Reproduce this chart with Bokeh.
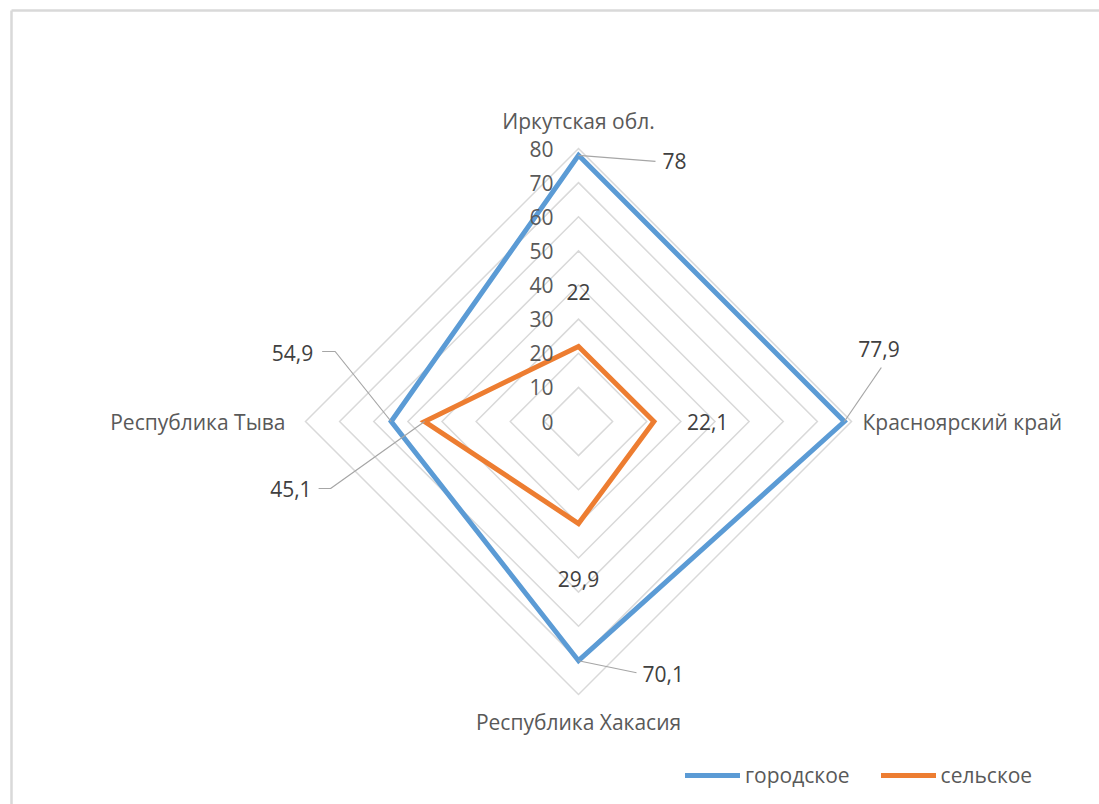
import math
from bokeh.plotting import figure
from bokeh.models import Range1d, Legend, LegendItem
from bokeh.core.properties import value
from bokeh.embed import file_html
from bokeh.resources import INLINE

# ---- data ----
categories = ["Иркутская обл.", "Красноярский край", "Республика Хакасия", "Республика Тыва"]
urban = [78, 77.9, 70.1, 54.9]
rural = [22, 22.1, 29.9, 45.1]
series_names = ["городское", "сельское"]
ticks = [0, 10, 20, 30, 40, 50, 60, 70, 80]

# ---- layout ----
W, H = 1099, 804
R_MAX = 80
S = 273 / R_MAX          # pixels per unit
CX, CY = 578, 421        # centre of the radar, in pixels from top-left

FONT_NAME = "Open Sans"
FONT = value(FONT_NAME)
FS = "21px"
GRID = "#d9d9d9"
BLUE = "#5b9bd5"
ORANGE = "#ed7d31"
CAT_COLOR = "#595959"
LBL_COLOR = "#404040"


def to_x(px):
    return (px - CX) / S


def to_y(py):
    return (CY - py) / S


# clockwise from the top
angles = [math.pi / 2 - i * math.pi / 2 for i in range(len(categories))]
ux = [round(math.cos(a), 12) for a in angles]
uy = [round(math.sin(a), 12) for a in angles]

p = figure(width=W, height=H,
           x_range=Range1d(to_x(0), to_x(W)), y_range=Range1d(to_y(H), to_y(0)),
           x_axis_location=None, y_axis_location=None,
           output_backend="svg", toolbar_location=None,
           min_border=0, outline_line_color=None)
for g in p.grid:
    g.visible = False

# chart-area frame
fx, fy = to_x(11), to_y(10)
p.segment(x0=[fx, fx], y0=[fy, fy], x1=[fx, to_x(W)], y1=[to_y(H), fy],
          line_color=GRID, line_width=2.5)

# concentric grid rings
for t in ticks[1:]:
    p.patch([t * c for c in ux], [t * s for s in uy],
            fill_color=None, line_color=GRID, line_width=1.5, line_join="miter")

# series polygons
def poly(vals):
    return [v * c for v, c in zip(vals, ux)], [v * s for v, s in zip(vals, uy)]

bx, by = poly(urban)
ox, oy = poly(rural)
p.patch(bx, by, fill_color=None, line_color=BLUE, line_width=5, line_join="miter")
p.patch(ox, oy, fill_color=None, line_color=ORANGE, line_width=5, line_join="miter")

# leader lines (pixel offsets from the data point)
def leader(px, py, pts):
    xs = [px] + [px + dx / S for dx, dy in pts]
    ys = [py] + [py - dy / S for dx, dy in pts]
    return xs, ys

lead = [
    leader(bx[0], by[0], [(77, 6)]),
    leader(bx[1], by[1], [(37, -54)]),
    leader(bx[2], by[2], [(58, 12)]),
    leader(bx[3], by[3], [(-56, -70), (-69, -70)]),
    leader(ox[3], oy[3], [(-94, 67), (-106, 67)]),
]
p.multi_line([l[0] for l in lead], [l[1] for l in lead], line_color="#a6a6a6", line_width=1.2)

# axis tick labels along the top spoke
p.text(x=[0] * len(ticks), y=ticks, text=[str(t) for t in ticks],
       x_offset=-25, text_align="right", text_baseline="middle",
       text_font=FONT, text_font_size=FS, text_color=CAT_COLOR)

# category labels
cat_off = [(0, -28, "center"), (11, 0, "left"), (0, 27, "center"), (-20, 0, "right")]
for i, name in enumerate(categories):
    dx, dy, al = cat_off[i]
    p.text(x=[R_MAX * ux[i]], y=[R_MAX * uy[i]], text=[name],
           x_offset=dx, y_offset=dy, text_align=al, text_baseline="middle",
           text_font=FONT, text_font_size=FS, text_color=CAT_COLOR)

# value labels
def fmt(v):
    return (f"{v:g}").replace(".", ",")

urban_off = [(84, 6, "left"), (14, -73, "left"), (64, 13, "left"), (-78, -69, "right")]
rural_off = [(0, -54, "center"), (33, 0, "left"), (0, 55, "center"), (-113, 67, "right")]
for xs, ys, vals, offs in [(bx, by, urban, urban_off), (ox, oy, rural, rural_off)]:
    for i, v in enumerate(vals):
        dx, dy, al = offs[i]
        p.text(x=[xs[i]], y=[ys[i]], text=[fmt(v)],
               x_offset=dx, y_offset=dy, text_align=al, text_baseline="middle",
               text_font=FONT, text_font_size=FS, text_color=LBL_COLOR)

# legend (renderers hold a single NaN point so nothing is drawn in the plot area)
nan = float("nan")
r_u = p.line(x=[nan], y=[nan], line_color=BLUE, line_width=5, line_cap="round")
r_r = p.line(x=[nan], y=[nan], line_color=ORANGE, line_width=5, line_cap="round")
legend = Legend(items=[LegendItem(label=series_names[0], renderers=[r_u]),
                       LegendItem(label=series_names[1], renderers=[r_r])],
                orientation="horizontal", location=(685, 15),
                padding=0, margin=0, spacing=31, glyph_width=55, glyph_height=20,
                label_standoff=5, label_text_font=FONT_NAME, label_text_font_size=FS,
                label_text_color=CAT_COLOR, background_fill_alpha=0,
                border_line_color=None)
p.add_layout(legend)

open("out.html", "w").write(file_html(p, INLINE))
